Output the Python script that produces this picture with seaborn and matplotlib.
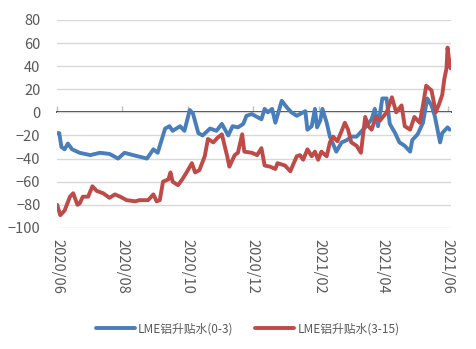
import matplotlib
matplotlib.use("Agg")
import matplotlib.pyplot as plt
import matplotlib.dates as mdates
import seaborn as sns
import pandas as pd

# ---- data ----
blue_dates = ["2020-06-01", "2020-06-03", "2020-06-05", "2020-06-08", "2020-06-11", "2020-06-15",
              "2020-06-22", "2020-07-02", "2020-07-11", "2020-07-20", "2020-07-28", "2020-08-03",
              "2020-08-11", "2020-08-24", "2020-08-30", "2020-09-03", "2020-09-10", "2020-09-14",
              "2020-09-17", "2020-09-24", "2020-09-28", "2020-10-03", "2020-10-06", "2020-10-11",
              "2020-10-15", "2020-10-22", "2020-10-28", "2020-11-02", "2020-11-08", "2020-11-12",
              "2020-11-17", "2020-11-22", "2020-11-25", "2020-11-30", "2020-12-05", "2020-12-09",
              "2020-12-12", "2020-12-15", "2020-12-19", "2020-12-22", "2020-12-28", "2021-01-02",
              "2021-01-06", "2021-01-11", "2021-01-19", "2021-01-21", "2021-01-25", "2021-01-28",
              "2021-01-30", "2021-02-02", "2021-02-04", "2021-02-08", "2021-02-11", "2021-02-17",
              "2021-02-22", "2021-02-27", "2021-03-03", "2021-03-08", "2021-03-13", "2021-03-17",
              "2021-03-22", "2021-03-25", "2021-03-28", "2021-04-01", "2021-04-05", "2021-04-08",
              "2021-04-13", "2021-04-17", "2021-04-22", "2021-04-27", "2021-04-29", "2021-05-04",
              "2021-05-09", "2021-05-13", "2021-05-17", "2021-05-20", "2021-05-25", "2021-05-27",
              "2021-06-01", "2021-06-03"]
blue_vals = [-18, -18, -30, -32, -27, -32,
             -35, -37, -35, -36, -40, -35,
             -37, -40, -32, -35, -14, -12,
             -16, -12, -16, 2, -1, -18,
             -20, -14, -16, -10, -20, -12,
             -13, -10, -3, -1.5, -4, -6,
             3, 0, 3, -9, 10, 4,
             0, -3, 1, -15, -12, 3,
             -13, -7, 3, -9, -21, -34,
             -26, -24, -21, -21, -16, -12,
             -6, 3, -12, 12, 12, -10,
             -18, -26, -29, -34, -24, -19,
             -9, 12, 6, -3, -26, -18,
             -13, -15]

red_dates = ["2020-06-01", "2020-06-04", "2020-06-08", "2020-06-13", "2020-06-16", "2020-06-20",
             "2020-06-22", "2020-06-25", "2020-06-30", "2020-07-04", "2020-07-08", "2020-07-14",
             "2020-07-20", "2020-07-25", "2020-07-30", "2020-08-05", "2020-08-13", "2020-08-17",
             "2020-08-25", "2020-08-30", "2020-09-02", "2020-09-05", "2020-09-08", "2020-09-13",
             "2020-09-15", "2020-09-17", "2020-09-22", "2020-09-26", "2020-09-30", "2020-10-05",
             "2020-10-08", "2020-10-12", "2020-10-17", "2020-10-20", "2020-10-25", "2020-10-29",
             "2020-11-02", "2020-11-07", "2020-11-09", "2020-11-14", "2020-11-17", "2020-11-21",
             "2020-11-23", "2020-11-30", "2020-12-05", "2020-12-09", "2020-12-12", "2020-12-17",
             "2020-12-22", "2020-12-24", "2020-12-31", "2021-01-05", "2021-01-11", "2021-01-14",
             "2021-01-17", "2021-01-21", "2021-01-25", "2021-01-28", "2021-01-31", "2021-02-03",
             "2021-02-08", "2021-02-11", "2021-02-14", "2021-02-18", "2021-02-22", "2021-02-25",
             "2021-02-28", "2021-03-03", "2021-03-08", "2021-03-12", "2021-03-16", "2021-03-19",
             "2021-03-22", "2021-03-26", "2021-03-30", "2021-04-05", "2021-04-10", "2021-04-14",
             "2021-04-19", "2021-04-22", "2021-04-27", "2021-05-01", "2021-05-06", "2021-05-09",
             "2021-05-12", "2021-05-17", "2021-05-21", "2021-05-24", "2021-05-27", "2021-05-29",
             "2021-05-31", "2021-06-01", "2021-06-03", "2021-06-04"]
red_vals = [-80, -89, -85, -73, -70, -80,
            -79, -73, -73, -64, -68, -70,
            -74, -71, -73, -76, -77, -76,
            -76, -71, -77, -76, -60, -58,
            -52, -60, -63, -58, -52, -44,
            -52, -50, -38, -23, -26, -22,
            -19, -38, -47, -37, -35, -19,
            -34, -35, -37, -31, -46, -47,
            -49, -44, -46, -51, -38, -37,
            -41, -32, -38, -34, -41, -34,
            -38, -26, -21, -25, -16, -9,
            -15, -26, -29, -35, -4, -12,
            -15, -4, -7, 0, 13, 0,
            6, -12, -15, -4, -9, 6,
            23, 19, 0, 7, 15, 29,
            38, 56, 41, 38]

series_names = ["LME铝升贴水(0-3)", "LME铝升贴水(3-15)"]
tick_labels = ["2020/06", "2020/08", "2020/10", "2020/12", "2021/02", "2021/04", "2021/06"]
y_ticks = [-100, -80, -60, -40, -20, 0, 20, 40, 60, 80]

df = pd.concat([
    pd.DataFrame({"date": pd.to_datetime(blue_dates), "value": blue_vals, "series": series_names[0]}),
    pd.DataFrame({"date": pd.to_datetime(red_dates), "value": red_vals, "series": series_names[1]}),
], ignore_index=True)

sns.set_theme(style="white")
plt.rcParams["font.family"] = ["Noto Sans CJK SC", "DejaVu Sans"]

fig = plt.figure(figsize=(4.76, 3.49), dpi=100)
ax = fig.add_axes([0.12, 0.347, 0.827, 0.596])

palette = {series_names[0]: "#4A7EBB", series_names[1]: "#BE4B48"}
sns.lineplot(data=df, x="date", y="value", hue="series", palette=palette,
             estimator=None, sort=False, linewidth=2.8, ax=ax, legend=False)

tick_dates = pd.to_datetime([t.replace("/", "-") + "-01" for t in tick_labels])
ax.set_xlim(pd.Timestamp("2020-06-01"), pd.Timestamp("2021-06-04"))
ax.set_ylim(-100, 80)
ax.set_yticks(y_ticks)
ax.set_xticks(tick_dates)
ax.set_xticklabels(tick_labels, rotation=270, fontsize=10.5, color="#595959")
ax.tick_params(axis="y", length=0, pad=12, labelsize=10.5, labelcolor="#595959")
ax.tick_params(axis="x", length=0, pad=8)
ax.set_xlabel("")
ax.set_ylabel("")
ax.grid(axis="y", color="#D9D9D9", linewidth=1)
ax.grid(axis="x", visible=False)
for s in ax.spines.values():
    s.set_visible(False)

# axis line at y = 0 with small tick marks
sec = ax.secondary_xaxis(100 / 180)
sec.set_xticks(tick_dates)
sec.set_xticklabels([""] * len(tick_dates))
sec.tick_params(axis="x", direction="out", length=4, color="#BFBFBF", width=1)
sec.spines["bottom"].set_color("#BFBFBF")
sec.spines["bottom"].set_linewidth(1)

from matplotlib.lines import Line2D
handles = [Line2D([], [], color=palette[n], linewidth=2.8) for n in series_names]
fig.legend(handles, series_names, loc="center", bbox_to_anchor=(0.52, 0.058), ncol=2,
           frameon=False, fontsize=8.5, handlelength=3.3, handletextpad=0.3, columnspacing=1.8,
           labelcolor="#595959")

fig.savefig("out.png", dpi=100)
